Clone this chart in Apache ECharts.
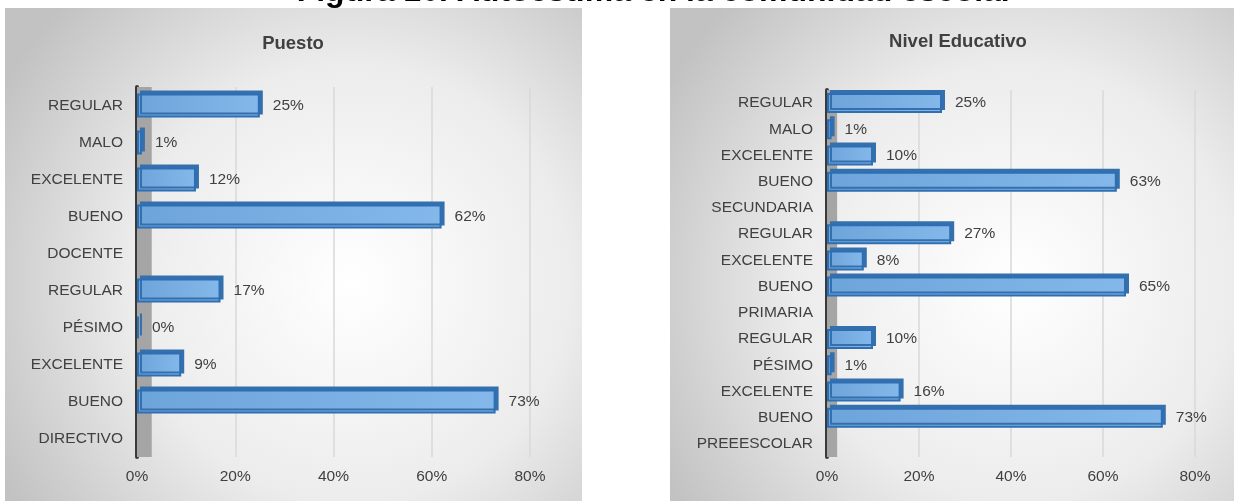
<!DOCTYPE html>
<html>
<head>
<meta charset="utf-8">
<script src="https://cdn.jsdelivr.net/npm/echarts@6/dist/echarts.min.js"></script>
<style>
  html, body { margin: 0; padding: 0; background: #ffffff; }
  #main { width: 1234px; height: 501px; }
</style>
</head>
<body>
<div id="main"></div>
<script>
  // datos (de arriba hacia abajo)
  var puestoCats = ["REGULAR", "MALO", "EXCELENTE", "BUENO", "DOCENTE",
    "REGULAR", "PÉSIMO", "EXCELENTE", "BUENO", "DIRECTIVO"];
  var puestoVals = [25, 1, 12, 62, null, 17, 0.4, 9, 73, null];

  var nivelCats = ["REGULAR", "MALO", "EXCELENTE", "BUENO", "SECUNDARIA",
    "REGULAR", "EXCELENTE", "BUENO", "PRIMARIA",
    "REGULAR", "PÉSIMO", "EXCELENTE", "BUENO", "PREEESCOLAR"];
  var nivelVals = [25, 1, 10, 63, null, 27, 8, 65, null, 10, 1, 16, 73, null];

  var xTicks = [0, 20, 40, 60, 80];

  var txt = "#404040";
  var font = "Liberation Sans, Arial, sans-serif";

  var chart = echarts.init(document.getElementById("main"));

  function panelBg(x, w) {
    return {
      type: "rect",
      z: -10,
      shape: { x: x, y: 8, width: w, height: 500 },
      style: {
        fill: {
          type: "radial", x: 0.6, y: 0.55, r: 0.8,
          colorStops: [
            { offset: 0, color: "#ffffff" },
            { offset: 0.55, color: "#ececec" },
            { offset: 1, color: "#c2c2c2" }
          ]
        }
      },
      silent: true
    };
  }

  function xAxisOpt(idx) {
    return {
      gridIndex: idx,
      type: "value",
      min: xTicks[0],
      max: xTicks[xTicks.length - 1],
      interval: 20,
      axisLine: { show: false },
      axisTick: { show: false },
      splitLine: { lineStyle: { color: "#d9d9d9", width: 1.5 } },
      axisLabel: {
        formatter: "{value}%",
        color: txt, fontSize: 15.5, fontFamily: font, margin: 12
      }
    };
  }

  function yAxisOpt(idx, cats) {
    return {
      gridIndex: idx,
      type: "category",
      inverse: true,
      data: cats,
      axisTick: { show: false },
      axisLine: { show: true, lineStyle: { color: "#3a3a3a", width: 4 } },
      axisLabel: { color: txt, fontSize: 15.5, fontFamily: font, margin: 14 }
    };
  }

  function barSeries(idx, vals, bw, wall) {
    return {
      type: "bar",
      xAxisIndex: idx,
      yAxisIndex: idx,
      data: vals,
      barWidth: bw,
      itemStyle: {
        color: {
          type: "linear", x: 0, y: 0, x2: 1, y2: 0,
          colorStops: [
            { offset: 0, color: "#6da4da" },
            { offset: 1, color: "#84b8ea" }
          ]
        },
        borderColor: "#2e6fb3",
        borderWidth: 2,
        shadowColor: "#3570ad",
        shadowOffsetX: 3,
        shadowOffsetY: -3
      },
      label: {
        show: true,
        position: "right",
        distance: 13,
        color: txt,
        fontSize: 15.5,
        fontFamily: font,
        formatter: function (p) { return Math.round(p.value) + "%"; }
      },
      markArea: {
        silent: true,
        itemStyle: { color: "#a5a5a5" },
        data: [[{ xAxis: 0 }, { xAxis: wall }]]
      }
    };
  }

  chart.setOption({
    animation: false,
    backgroundColor: "#ffffff",
    graphic: [
      panelBg(5, 577),
      panelBg(670, 576),
      {
        type: "text",
        x: 655, y: -8,
        style: {
          text: "Figura 10. Autoestima en la comunidad escolar",
          fill: "#000000",
          font: "bold 32px Liberation Sans, Arial, sans-serif",
          align: "center",
          verticalAlign: "middle"
        }
      }
    ],
    title: [
      {
        text: "Puesto", left: 293, top: 34, textAlign: "center", padding: 0,
        textStyle: { color: txt, fontSize: 18.5, fontWeight: "bold", fontFamily: font }
      },
      {
        text: "Nivel Educativo", left: 958, top: 32, textAlign: "center", padding: 0,
        textStyle: { color: txt, fontSize: 18.5, fontWeight: "bold", fontFamily: font }
      }
    ],
    grid: [
      { left: 137, right: 704, top: 87, bottom: 44 },
      { left: 827, right: 39, top: 90, bottom: 44 }
    ],
    xAxis: [xAxisOpt(0), xAxisOpt(1)],
    yAxis: [yAxisOpt(0, puestoCats), yAxisOpt(1, nivelCats)],
    series: [
      barSeries(0, puestoVals, 24, 3),
      barSeries(1, nivelVals, 20, 2.2)
    ]
  });
</script>
</body>
</html>
